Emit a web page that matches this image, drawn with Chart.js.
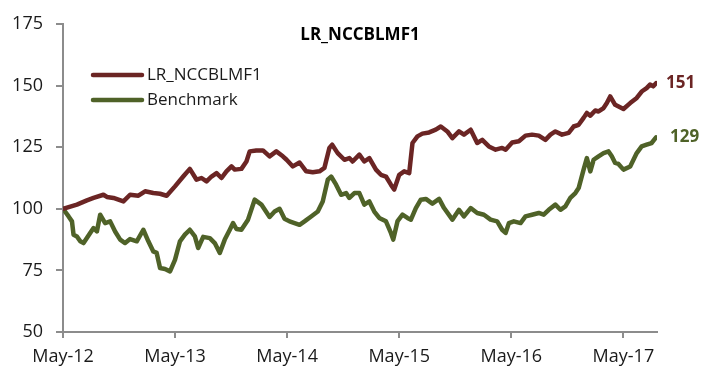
<!DOCTYPE html>
<html lang="en">
<head>
    <meta charset="UTF-8">
    <title>LR_NCCBLMF1</title>
    <script src="https://cdn.jsdelivr.net/npm/chart.js"></script>
    <style>
        body {
            margin: 0;
            padding: 0;
            background: #ffffff;
        }

        #perfChart {
            display: block;
        }
    </style>
</head>
<body>
    <canvas id="perfChart" width="703" height="370"></canvas>

    <script>
        // x values are months since May-12
        const xTickMonths = [0, 12, 24, 36, 48, 60];
        const xTickLabels = ['May-12', 'May-13', 'May-14', 'May-15', 'May-16', 'May-17'];

        const fundMonths = [0, 1.49, 2.56, 3.27, 4.33, 4.7, 5.4, 6.47, 7.18, 8.07, 8.79, 9.67, 10.39, 11.1, 11.99,
            12.87, 13.58, 14.3, 14.83, 15.37, 15.9, 16.44, 16.97, 17.5, 18.04, 18.39, 19.1, 19.64, 19.99,
            20.7, 21.41, 22.12, 22.84, 23.54, 23.94, 24.61, 25.33, 26.04, 26.74, 27.46, 27.99, 28.52, 28.82,
            29.41, 30.13, 30.66, 31.01, 31.73, 32.26, 32.8, 33.51, 34.04, 34.58, 35.11, 35.46, 36.0, 36.53,
            37.07, 37.42, 37.95, 38.48, 39.2, 39.91, 40.45, 41.15, 41.69, 42.4, 42.93, 43.65, 44.35, 44.89,
            45.6, 46.32, 47.02, 47.39, 48.09, 48.81, 49.52, 50.22, 50.94, 51.65, 52.19, 52.72, 53.43, 54.14,
            54.67, 55.21, 55.74, 56.09, 56.46, 56.99, 57.34, 57.88, 58.23, 58.59, 59.12, 60.01, 60.73, 61.43,
            61.96, 62.49, 62.85, 63.2, 63.5];
        const fundValues = [100, 101.7, 103.4, 104.4, 105.7, 104.8, 104.4, 103.0, 105.7, 105.3, 107.1, 106.4, 106.1, 105.3, 109.1,
            113.1, 116.2, 111.8, 112.5, 111.1, 113.1, 114.5, 112.5, 115.2, 117.2, 115.9, 116.2, 119.2, 123.3,
            123.7, 123.7, 121.3, 123.3, 121.3, 119.9, 117.2, 118.8, 115.2, 114.8, 115.2, 116.6, 124.7, 126.0,
            122.6, 119.9, 120.6, 119.2, 122.0, 119.2, 120.6, 115.9, 113.8, 113.1, 109.8, 107.8, 113.8, 115.2,
            114.5, 126.7, 129.4, 130.5, 131.0, 132.1, 133.4, 131.4, 128.7, 131.4, 130.1, 132.1, 126.7, 128.0,
            125.3, 124.0, 124.7, 124.0, 126.9, 127.4, 129.7, 130.1, 129.7, 128.0, 130.1, 131.4, 130.1, 130.8,
            133.4, 134.1, 136.9, 138.9, 137.8, 139.9, 139.5, 140.9, 142.9, 145.6, 142.2, 140.5, 142.9, 145.0,
            147.6, 149.0, 150.4, 149.7, 151];

        const benchMonths = [0, 0.6, 0.96, 1.13, 1.49, 1.85, 2.2, 2.91, 3.27, 3.63, 3.98, 4.51, 5.05, 5.58, 6.12,
            6.65, 7.18, 7.9, 8.6, 9.14, 9.67, 10.03, 10.39, 10.92, 11.46, 11.99, 12.52, 13.05, 13.58, 14.12,
            14.47, 15.01, 15.72, 16.25, 16.79, 17.32, 17.86, 18.21, 18.57, 19.1, 19.81, 20.52, 21.24, 22.12,
            22.66, 23.19, 23.72, 24.26, 24.79, 25.33, 25.86, 26.57, 27.28, 27.81, 28.35, 28.71, 29.24, 29.78,
            30.31, 30.66, 31.2, 31.73, 32.26, 32.8, 33.33, 33.86, 34.58, 35.11, 35.36, 35.82, 36.35, 36.88,
            37.25, 37.78, 38.31, 38.85, 39.55, 40.27, 40.8, 41.69, 42.4, 42.93, 43.65, 44.35, 45.07, 45.78,
            46.49, 47.02, 47.39, 47.74, 48.27, 48.99, 49.52, 50.22, 50.94, 51.47, 52.01, 52.72, 53.26, 53.79,
            54.32, 54.86, 55.21, 55.74, 56.09, 56.46, 56.81, 57.34, 57.88, 58.41, 58.76, 59.12, 59.47, 60.01,
            60.73, 61.43, 61.96, 62.49, 63.02, 63.5];
        const benchValues = [100, 96.9, 94.9, 89.5, 88.8, 86.8, 86.1, 90.2, 92.2, 90.8, 97.6, 94.2, 94.9, 90.8, 87.5,
            86.1, 87.7, 86.8, 91.5, 86.8, 82.7, 82.1, 76.0, 75.6, 74.6, 79.3, 86.8, 89.5, 91.5, 88.8,
            84.1, 88.6, 88.1, 86.1, 82.1, 87.5, 91.5, 94.2, 91.8, 91.5, 95.6, 103.7, 101.7, 96.7,
            98.9, 100.0, 96.0, 94.9, 94.2, 93.5, 94.9, 96.9, 98.9, 103.0, 111.8, 113.1, 109.8, 105.7,
            106.4, 104.4, 106.4, 106.4, 101.7, 103.0, 98.9, 96.3, 94.9, 90.2, 87.5, 95.0, 97.6, 96.3,
            95.6, 100.3, 103.7, 104.0, 102.1, 104.0, 100.3, 95.6, 99.6, 96.9, 100.3, 98.3, 97.6, 95.6,
            94.9, 91.5, 90.2, 94.2, 94.9, 94.2, 96.9, 97.6, 98.3, 97.6, 99.6, 101.7, 99.6, 101.0,
            104.4, 106.4, 108.4, 115.9, 120.6, 115.2, 119.9, 121.3, 122.6, 123.3, 121.3, 118.6, 118.2, 115.9,
            117.2, 122.6, 125.3, 126.0, 126.7, 129];

        const fundColor = '#6b2524';
        const benchColor = '#4f6228';
        const axisColor = '#8c8c8c';
        const fontFamily = '"Open Sans", "DejaVu Sans", sans-serif';

        const toPoints = (xs, ys) => xs.map((x, i) => ({ x: x, y: ys[i] }));

        // title, inset legend and end-of-line value labels
        const overlayPlugin = {
            id: 'overlay',
            afterDatasetsDraw(chart) {
                const ctx = chart.ctx;
                const area = chart.chartArea;
                ctx.save();

                ctx.fillStyle = '#000000';
                ctx.font = 'bold 17px ' + fontFamily;
                ctx.textAlign = 'center';
                ctx.textBaseline = 'middle';
                ctx.fillText('LR_NCCBLMF1', (area.left + area.right) / 2, 35);

                chart.data.datasets.forEach((ds, i) => {
                    const y = 75 + i * 25;
                    ctx.strokeStyle = ds.borderColor;
                    ctx.lineWidth = 4.5;
                    ctx.lineCap = 'round';
                    ctx.beginPath();
                    ctx.moveTo(93, y);
                    ctx.lineTo(142, y);
                    ctx.stroke();

                    ctx.fillStyle = '#1a1a1a';
                    ctx.font = '17px ' + fontFamily;
                    ctx.textAlign = 'left';
                    ctx.fillText(ds.label, 147, y);

                    const meta = chart.getDatasetMeta(i);
                    const last = meta.data[meta.data.length - 1];
                    const value = ds.data[ds.data.length - 1].y;
                    ctx.fillStyle = ds.borderColor;
                    ctx.font = 'bold 17px ' + fontFamily;
                    ctx.fillText(Math.round(value).toString(), last.x + 10 + i * 4, last.y);
                });

                ctx.restore();
            }
        };

        new Chart(document.getElementById('perfChart').getContext('2d'), {
            type: 'line',
            data: {
                datasets: [{
                    label: 'LR_NCCBLMF1',
                    data: toPoints(fundMonths, fundValues),
                    borderColor: fundColor,
                    borderWidth: 4.5,
                    pointRadius: 0,
                    tension: 0,
                    borderJoinStyle: 'round',
                    borderCapStyle: 'round',
                }, {
                    label: 'Benchmark',
                    data: toPoints(benchMonths, benchValues),
                    borderColor: benchColor,
                    borderWidth: 4.5,
                    pointRadius: 0,
                    tension: 0,
                    borderJoinStyle: 'round',
                    borderCapStyle: 'round',
                }],
            },
            options: {
                responsive: false,
                animation: false,
                layout: { padding: { left: 0, top: 24, right: 46, bottom: 0 } },
                plugins: {
                    legend: { display: false },
                    tooltip: { enabled: false },
                },
                scales: {
                    x: {
                        type: 'linear',
                        min: 0,
                        max: 63.6,
                        afterBuildTicks: (scale) => {
                            scale.ticks = xTickMonths.map(v => ({ value: v }));
                        },
                        afterFit: (scale) => { scale.height = 38; },
                        grid: {
                            drawOnChartArea: false,
                            drawTicks: true,
                            tickLength: 6,
                            color: axisColor,
                            lineWidth: 2,
                        },
                        border: { display: true, color: axisColor, width: 2 },
                        ticks: {
                            autoSkip: false,
                            maxRotation: 0,
                            padding: 8,
                            color: '#1a1a1a',
                            font: { family: fontFamily, size: 18 },
                            callback: (value) => xTickLabels[xTickMonths.indexOf(value)],
                        },
                    },
                    y: {
                        min: 50,
                        max: 175,
                        afterFit: (scale) => { scale.width = 63; },
                        grid: {
                            drawOnChartArea: false,
                            drawTicks: true,
                            tickLength: 7,
                            color: axisColor,
                            lineWidth: 2,
                        },
                        border: { display: true, color: axisColor, width: 2 },
                        ticks: {
                            stepSize: 25,
                            padding: 13,
                            color: '#1a1a1a',
                            font: { family: fontFamily, size: 18 },
                        },
                    },
                },
            },
            plugins: [overlayPlugin],
        });
    </script>
</body>
</html>
